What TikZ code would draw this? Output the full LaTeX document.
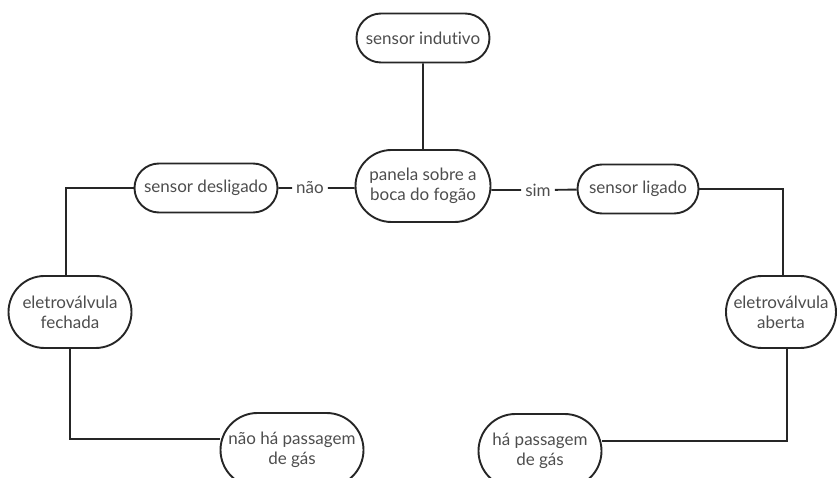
\documentclass[tikz,border=0pt]{standalone}
\usepackage{fontspec}
\setmainfont{Lato}[Ligatures=NoCommon]
\usetikzlibrary{positioning,shapes.misc}
\definecolor{linha}{HTML}{262626}
\definecolor{texto}{HTML}{4D4D4D}
\tikzset{
  basic/.style   = {draw=linha, line width=1.9pt, text=texto, align=center,
                    font=\fontsize{17}{20}\selectfont, inner xsep=1pt, inner ysep=0pt},
  caixa/.style   = {basic, rounded rectangle, minimum height=49pt},
  caixa 2/.style = {basic, rounded rectangle, minimum height=72pt},
  resposta/.style = {text=texto, font=\fontsize{17}{20}\selectfont, inner sep=4pt},
  conector/.style = {draw=linha, line width=1.9pt}
}

\begin{document}
\begin{tikzpicture}[x=1pt, y=-1pt]
\useasboundingbox (0,0) rectangle (839,478);

% no central
\node[caixa 2, minimum width=137pt] (p0) at (423,186) {panela sobre a \\ boca do fogão};

% sensores, relativos ao no central
\node[caixa, minimum width=135pt, node distance=148pt, above of=p0] (s0) {sensor indutivo};
\node[caixa, minimum width=145pt, node distance=217pt, left of=p0, yshift=-2pt] (s1) {sensor desligado};
\node[caixa, minimum width=123pt, node distance=215pt, right of=p0, yshift=-3pt] (s2) {sensor ligado};

% respostas
\node[resposta] (nao) at (310,188) {não};
\node[resposta] (sim) at (538,190) {sim};

% eletrovalvulas e passagem de gas
\node[caixa 2, minimum width=125pt, node distance=124pt, below of=s1, xshift=-136pt] (v1) {eletroválvula \\ fechada};
\node[caixa 2, minimum width=112pt, node distance=123pt, below of=s2, xshift=143pt] (v2) {eletroválvula \\ aberta};
\node[caixa 2, minimum width=145pt, minimum height=74pt, node distance=138pt, below of=v1, xshift=222pt] (g1) {não há passagem \\ de gás};
\node[caixa 2, minimum width=125pt, minimum height=74pt, node distance=139pt, below of=v2, xshift=-241pt] (g2) {há passagem \\ de gás};

\draw[conector] (s0) -- (p0);
\draw[conector] (s1) -- (nao) -- (nao -| p0.west);
\draw[conector] (p0.east |- sim) -- (sim) -- (s2);

\draw[conector] (s1.west) -| ([xshift=-4pt]v1.north);
\draw[conector] (v1.south) |- ([yshift=11pt]g1.west);
\draw[conector] (s2.east) -| ([xshift=2pt]v2.north);
\draw[conector] ([xshift=6pt]v2.south) |- ([yshift=10pt]g2.east);
\end{tikzpicture}
\end{document}
